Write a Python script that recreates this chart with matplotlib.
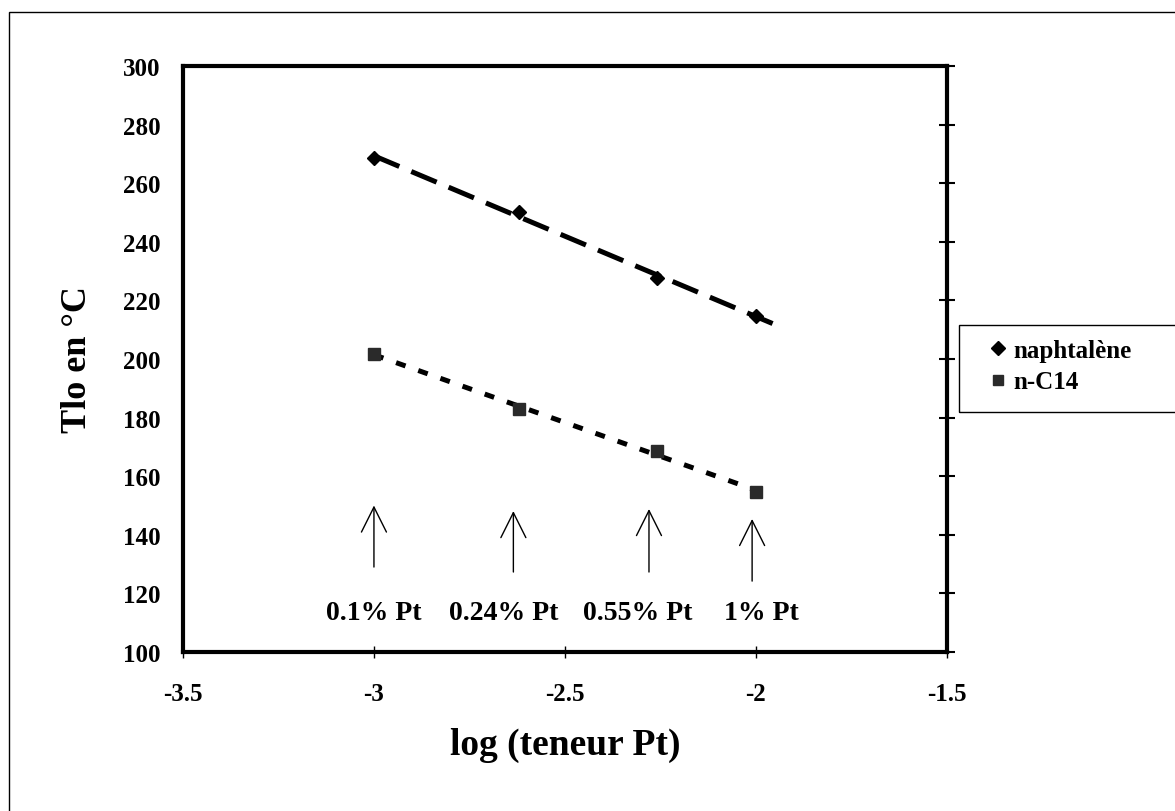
import matplotlib
matplotlib.use("Agg")
import matplotlib.pyplot as plt
from matplotlib.lines import Line2D
from matplotlib.patches import Rectangle
import numpy as np

plt.rcParams["font.family"] = ["Liberation Serif", "DejaVu Serif"]
plt.rcParams["font.weight"] = "bold"

# log10 of the Pt content
log_pt = [-3.0, -2.62, -2.26, -2.0]
naphtalene = [268.6, 250.2, 227.6, 214.7]
n_c14 = [201.7, 182.9, 168.6, 154.6]

# arrows marking each catalyst
arrow_x = [-3.0, -2.635, -2.28, -2.01]
arrow_tail = [129, 127.3, 127.3, 124.2]
arrow_tip = [150, 148.1, 148.8, 145.4]
pt_labels = ["0.1% Pt", "0.24% Pt", "0.55% Pt", "1% Pt"]
label_x = [-3.0, -2.66, -2.31, -1.985]
label_y = 113.6

fig = plt.figure(figsize=(11.75, 8.12), dpi=100)
ax = fig.add_axes([0.1557, 0.1958, 0.6502, 0.7217])

# outer frame of the chart area (cut by the image edges)
fig.patches.append(Rectangle((9 / 1175, -0.1), 1.2, (812 - 13) / 812 + 0.1,
                             transform=fig.transFigure, fill=False,
                             edgecolor="black", lw=1.0))

# trend lines
p1 = np.polyfit(log_pt, naphtalene, 1)
p2 = np.polyfit(log_pt, n_c14, 1)
x1 = np.array([-3.0, -1.955])
x2 = np.array([-3.0, -1.965])
ax.plot(x1, np.polyval(p1, x1), color="black", lw=3.6, dashes=(5.5, 2.6),
        dash_capstyle="butt")
ax.plot(x2, np.polyval(p2, x2), color="black", lw=3.6, dashes=(2.0, 2.7),
        dash_capstyle="butt")

ax.plot(log_pt, naphtalene, linestyle="none", marker="D", ms=7, color="black")
ax.plot(log_pt, n_c14, linestyle="none", marker="s", ms=9, color="#2a2a2a")

for x, t0, t1 in zip(arrow_x, arrow_tail, arrow_tip):
    ax.annotate("", xy=(x, t1), xytext=(x, t0),
                arrowprops=dict(arrowstyle="->", lw=1.0, color="black",
                                mutation_scale=45, shrinkA=0, shrinkB=0))
for x, s in zip(label_x, pt_labels):
    ax.text(x, label_y, s, ha="center", va="center", fontsize=20,
            fontweight="bold")

ax.set_xlim(-3.5, -1.5)
ax.set_ylim(100, 300)
ax.set_xticks([-3.5, -3, -2.5, -2, -1.5])
ax.set_xticklabels(["-3.5", "-3", "-2.5", "-2", "-1.5"])
ax.set_yticks(np.arange(100, 301, 20))

for sp in ax.spines.values():
    sp.set_linewidth(3.0)

ax.tick_params(axis="x", direction="inout", length=9, width=1.0,
               labelsize=18, pad=17)
ax.tick_params(axis="y", left=False, right=True, labelleft=True,
               direction="inout", length=12, width=1.5, labelsize=18, pad=10)
for lab in ax.get_xticklabels() + ax.get_yticklabels():
    lab.set_fontweight("bold")

ax.set_xlabel("log (teneur Pt)", fontsize=27, fontweight="bold", va="center")
ax.xaxis.set_label_coords(0.5, -0.157)
ax.set_ylabel("Tlo en °C", fontsize=26, fontweight="bold", va="center")
ax.yaxis.set_label_coords(-0.1374, 0.5)

# legend box, running off the right edge like the reference
fig.patches.append(Rectangle((959 / 1175, (812 - 413) / 812), 0.3, 87 / 812,
                             transform=fig.transFigure, fill=False,
                             edgecolor="black", lw=1.0))
handles = [
    Line2D([], [], linestyle="none", marker="D", ms=7, color="black"),
    Line2D([], [], linestyle="none", marker="s", ms=7, color="#2a2a2a"),
]
leg = fig.legend(handles, ["naphtalène", "n-C14"], loc="center left",
                 bbox_to_anchor=(988 / 1175, (812 - 367) / 812),
                 bbox_transform=fig.transFigure, borderaxespad=0,
                 frameon=False, borderpad=0,
                 handlelength=0.8, handletextpad=0.2,
                 labelspacing=0.35, prop={"weight": "bold", "size": 18})

fig.savefig("out.png", dpi=100)
